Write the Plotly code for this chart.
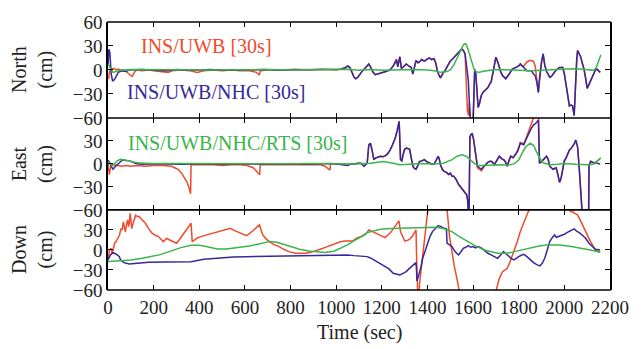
import plotly.graph_objects as go
from plotly.subplots import make_subplots

# ---------------- North error (cm) ----------------
north_uwb_t = [0, 3, 6, 10, 14, 20, 28, 35, 45, 55, 65, 80, 95, 106, 115, 125, 150, 180, 200, 230,
               263, 280, 320, 360, 391, 420, 460, 500, 540, 580, 620, 650, 663, 668, 700, 760, 820,
               880, 940, 1000, 1040, 1050, 1060, 1070, 1078, 1085, 1095, 1110, 1125, 1136, 1143,
               1152, 1162, 1171, 1185, 1200, 1218, 1236, 1250, 1264, 1270, 1279, 1286, 1295, 1307,
               1318, 1329, 1336, 1343, 1350, 1358, 1365, 1375, 1386, 1396, 1408, 1418, 1429, 1437,
               1443, 1450, 1457, 1468, 1479, 1490, 1500, 1511, 1522, 1536, 1550, 1558, 1565, 1570,
               1575, 1580, 1584, 1586, 1593, 1600, 1604, 1607, 1612, 1616, 1622, 1628, 1636, 1643,
               1655, 1665, 1672, 1679, 1686, 1693, 1700, 1708, 1715, 1722, 1729, 1736, 1743, 1758,
               1772, 1786, 1800, 1807, 1815, 1822, 1836, 1850, 1864, 1872, 1879, 1886, 1890, 1893,
               1900, 1907, 1914, 1922, 1936, 1943, 1950, 1964, 1979, 1993, 2000, 2007, 2015, 2022,
               2030, 2036, 2043, 2047, 2050, 2054, 2058, 2065, 2072, 2079, 2086, 2093, 2100, 2108,
               2115, 2122, 2129, 2136, 2143, 2150, 2157]
north_uwb_v = [-8, -11, -3, 1, 2, 1, 2, 0, 1, 0, -1, -2, -6, -8, -3, 0, -1, 0, -1, -2,
               -3, -1, 0, -1, -3, -1, 0, -1, 0, -1, -1, -3, -6, -1, 0, 0, 1,
               0, 1, 0, 2, 5, 3, -3, -9, -11, -9, -3, 2, 5, 7.5,
               3, -3, -6, -5, -3, -2, 0, 5, 13.5, 5, 17, 2, 4, 7.5,
               5, 3, -5, 4, 12, 9, 10, 13, 11, 13, 15, 13, 14, 8,
               -1, -6, -10, -4, 0, 6, 11, 14, 18, 22, 26.5, 24, 20, -10,
               -50, -57, -40, -55, -70, -65, -20, 1, -5, -25, -47, -42, -32, -28,
               -24, -22, -18, -15, -5, 8, 16, 10, 3, -3, -7, -9, -11, -5,
               1, 3, 5, 7.5, 5, 5, 10, 12, 11, 5, -10, -28, -15, -4,
               10, 20, 6, -2, -9, -8, -5, 0, 3, 3, -5, -17.6, -35, -45,
               -44, -45, -57, -30, -3, 12, 25, 20, 16, 8, 1, -10, -23, -18,
               -13, -8, -3, 0, 1, -1, -3]

north_nhc_t = [0, 4, 8, 14, 20, 28, 36, 45, 60, 80, 93, 150, 200, 260, 300, 350, 400, 450, 500,
               560, 620, 680, 740, 800, 860, 920, 980, 1020, 1040, 1050, 1060, 1070, 1078, 1085,
               1095, 1110, 1125, 1136, 1143, 1152, 1162, 1171, 1185, 1200, 1218, 1236, 1250, 1264,
               1270, 1279, 1286, 1295, 1307, 1318, 1329, 1336, 1343, 1350, 1358, 1365, 1375, 1386,
               1396, 1408, 1418, 1429, 1437, 1443, 1450, 1457, 1468, 1479, 1490, 1500, 1511, 1522,
               1536, 1550, 1558, 1565, 1572, 1579, 1586, 1593, 1600, 1604, 1607, 1612, 1616, 1622,
               1628, 1636, 1643, 1655, 1665, 1672, 1679, 1686, 1693, 1700, 1708, 1715, 1722, 1729,
               1736, 1743, 1758, 1772, 1786, 1800, 1807, 1815, 1822, 1836, 1850, 1857, 1864, 1872,
               1879, 1886, 1890, 1893, 1900, 1907, 1914, 1922, 1936, 1943, 1950, 1964, 1979, 1993,
               2000, 2007, 2015, 2022, 2030, 2036, 2043, 2047, 2050, 2054, 2058, 2065, 2072, 2079,
               2086, 2093, 2100, 2108, 2115, 2122, 2129, 2136, 2143, 2150, 2157]
north_nhc_v = [5, 26, 22, -5, -14, -12, -8, -3, -1, -2, 0, 0.5, -0.5, -1, 0.5, -0.5, 0, 0.5, -0.5,
               0.3, 0, 0.5, 0, 0.3, 0, 0.5, 0.3, 1, 3, 5, 3, -3, -9, -11,
               -9, -3, 2, 5, 7.5, 3, -3, -6, -5, -3, -2, 0, 5, 12.5,
               4, 16, 2, 4, 7.5, 5, 3, -5, 4, 12, 9, 10, 13, 11,
               13, 15, 13, 14, 8, -1, -6, -10, -4, 0, 6, 11, 14, 18,
               22, 26.5, 24, 20, 5, -13, -55, -70, -65, -20, 1, -5, -25, -47,
               -42, -32, -28, -24, -22, -18, -15, -5, 8, 16, 10, 3, -3, -7,
               -9, -11, -5, 1, 3, 5, 7.5, 5, 2, -1, -1, -1, -5, -7,
               -15, -28, -15, -4, 10, 20, 6, -2, -9, -8, -5, 0, 3, 3,
               -5, -17.6, -35, -45, -44, -45, -57, -30, -3, 12, 24, 20, 16, 8,
               1, -10, -23, -18, -13, -8, -3, 0, 1, -1, -3]

north_rts_t = [0, 8, 15, 22, 35, 60, 100, 200, 300, 400, 500, 600, 700, 800, 900, 1000, 1050,
               1100, 1150, 1200, 1250, 1300, 1350, 1400, 1430, 1460, 1485, 1500, 1515, 1530, 1545,
               1558, 1565, 1572, 1582, 1593, 1603, 1612, 1625, 1645, 1680, 1720, 1760, 1800, 1850,
               1900, 1950, 2000, 2040, 2080, 2110, 2129, 2140, 2150, 2160]
north_rts_v = [7.5, 4, 0, -3, -2, 0, 0.5, 0, 0.3, 0, 0.3, 0, 0.5, 0, 0.5, 0.3, 1,
               -0.5, 0.5, -0.5, 0, 0.5, 0.5, 0, -1, -3, -2, 0, 6, 15, 25,
               31.5, 33, 31, 22, 10, 2, -2, -3, -1.5, 0, 0.5, 0, -1, -1,
               -0.5, 0.5, 1.5, 1.5, 1, 0, -0.5, 3, 12, 19]

# ---------------- East error (cm) ----------------
east_uwb_t = [0, 3, 6, 10, 15, 25, 40, 60, 80, 100, 130, 160, 200, 240, 278, 292, 307, 322, 336,
              345, 353, 358, 362, 364, 380, 420, 460, 500, 540, 580, 610, 636, 650, 665, 667, 700,
              760, 820, 880, 930, 951, 962, 973, 975, 1000, 1040, 1049, 1065, 1079, 1095, 1108,
              1122, 1136, 1143, 1150, 1158, 1165, 1172, 1182, 1193, 1205, 1215, 1225, 1236, 1247,
              1258, 1267, 1276, 1282, 1288, 1293, 1300, 1308, 1315, 1322, 1329, 1336, 1343, 1350,
              1358, 1365, 1375, 1386, 1397, 1408, 1418, 1429, 1438, 1447, 1452, 1457, 1465, 1472,
              1483, 1493, 1500, 1508, 1515, 1525, 1536, 1550, 1565, 1572, 1576, 1579, 1582, 1584,
              1586, 1590, 1596, 1602, 1607, 1613, 1619, 1628, 1636, 1647, 1658, 1668, 1679, 1686,
              1693, 1704, 1715, 1725, 1736, 1743, 1750, 1758, 1765, 1775, 1786, 1796, 1807, 1815,
              1822, 1832, 1843, 1853, 1864, 1872, 1880, 1886, 1889, 1891, 1900, 1907, 1915, 1922,
              1929, 1936, 1943, 1950, 1957, 1964, 1970, 1979, 1986, 1993, 2000, 2007, 2015, 2022,
              2029, 2036, 2043, 2050, 2054, 2058, 2065, 2072, 2076, 2079, 2090, 2100, 2106, 2108,
              2115, 2125, 2136, 2146, 2157]
east_uwb_v = [0, -10, -14, -6, -2, -1, -2, -3, -2, -3, -2, -3, -2, -2, -3, -5, -7, -12, -18,
              -23, -29, -34, -39, -1, -1, -1, -1, -2, -1, -1, -2, -5, -9, -14, -1, -1,
              -1, -1, -1, -1, -3, -5, -8, 0, 0, -1, -2, 0, 0, 1, 1,
              -3, 1, 25, 27, 17, 5.5, 7.5, 9, 10, 9.5, 10.5, 13, 18, 25,
              33, 43, 56, 5.5, 4, 12, 19, 20.6, 20, 19, 8, -3, -6, -7,
              -2, 3, 4, 5.5, 3, 1, 0, -0.5, 4, 10, 6, -1, -7, -9.4,
              -11, -13.7, -12, -16, -16, -20, -26.6, -32, -37, -41, -48, -62, -80, -20,
              33, 38, 39, 32, 22.7, 6, -5, -7, -9, -4, 0.5, 3, 3.5, 2,
              -1, 5, 10, 7, 5, 2, -3, 5, 10, 8, 12, 18, 28, 27,
              26, 33, 42, 50, 58, 68, 75, 78, 30, 1, 3, 5.5, 7, 10,
              6, -3, -5, -7, -6, -5, -12, -24, -18, -5, 4, 7.5, 14, 18,
              20, 22.7, 26, 31, 27, 22, -5, -33, -55, -68, -75, -80, -80, -3,
              3.5, 2, 2, 4, 7]

east_nhc_t = [0, 5, 12, 22, 30, 43, 55, 64, 80, 93, 110, 121, 150, 200, 260, 320, 380, 440, 500,
              560, 620, 680, 740, 800, 860, 920, 980, 1030, 1049, 1065, 1079, 1095, 1108, 1122,
              1136, 1143, 1150, 1158, 1165, 1172, 1182, 1193, 1205, 1215, 1225, 1236, 1247, 1258,
              1267, 1276, 1282, 1288, 1293, 1300, 1308, 1315, 1322, 1329, 1336, 1343, 1350, 1358,
              1365, 1375, 1386, 1397, 1408, 1418, 1429, 1438, 1447, 1452, 1457, 1465, 1472, 1483,
              1493, 1500, 1508, 1515, 1525, 1536, 1550, 1565, 1572, 1576, 1579, 1582, 1584, 1586,
              1590, 1596, 1602, 1607, 1613, 1619, 1628, 1636, 1647, 1658, 1668, 1679, 1686, 1693,
              1704, 1715, 1725, 1736, 1743, 1750, 1758, 1765, 1775, 1786, 1796, 1807, 1815, 1822,
              1832, 1843, 1853, 1864, 1875, 1886, 1889, 1891, 1900, 1907, 1915, 1922, 1929, 1936,
              1943, 1950, 1957, 1964, 1970, 1979, 1986, 1993, 2000, 2007, 2015, 2022, 2029, 2036,
              2043, 2050, 2054, 2058, 2065, 2072, 2076, 2079, 2090, 2100, 2106, 2108, 2115, 2125,
              2136, 2146, 2157]
east_nhc_v = [5, 3, -2, -7, -4, 0, 4, 5.5, 4.5, 4, 2, 0.5, -0.5, 0.3, 0, -0.5, 0, 0.3, -0.5,
              0, 0.3, -0.5, 0, 0.3, -0.5, 0, 0.5, -1, -2, 0, 0, 1, 1, -3,
              1, 25, 27, 17, 5.5, 7.5, 9, 10, 9.5, 10.5, 13, 18, 25, 33,
              43, 55, 5.5, 4, 12, 19, 20.6, 20, 19, 8, -3, -6, -7, -2,
              3, 4, 5.5, 3, 1, 0, -0.5, 4, 10, 6, -1, -7, -9.4, -11,
              -13.7, -12, -16, -16, -20, -26.6, -32, -37, -40, -46, -60, -80, -20, 35.6,
              38, 40, 32, 22.7, 8, -3, -5, -7, -3, 0.5, 3, 3.5, 2, -1,
              5, 10, 7, 5, 2, -3, 5, 10, 8, 12, 17, 27, 26, 25,
              32, 40, 45, 50.6, 53, 57, 30, 1, 3, 5.5, 7, 10, 6, -3,
              -5, -7, -6, -5, -12, -24, -18, -5, 4, 7.5, 14, 18, 20, 22.7,
              26, 31, 27, 22, -5, -33, -55, -68, -75, -80, -80, -3, 3.5, 2,
              1, 0, 0]

east_rts_t = [0, 8, 18, 28, 40, 55, 70, 90, 110, 130, 160, 200, 300, 400, 500, 600, 700, 800,
              900, 1000, 1080, 1150, 1207, 1250, 1279, 1320, 1380, 1430, 1470, 1508, 1530, 1550,
              1570, 1593, 1608, 1622, 1650, 1700, 1750, 1780, 1800, 1815, 1830, 1850, 1865, 1879,
              1895, 1907, 1925, 1936, 1970, 2000, 2050, 2100, 2130, 2145, 2160]
east_rts_v = [3, 1, -2, 0, 4, 6, 5.5, 4, 2.5, 1.5, 1, 0.5, 0.5, 0.3, 0.5, 0.3, 0.5, 0.3,
              0.5, 0.5, 0, 1, 3, 1, -1, -0.5, 0.5, 0, 1, 5.6, 10, 12,
              10, 4, 0, -2, -2, -1, -1.5, 0, 5, 14, 22, 27, 24, 15,
              6, 1.5, -0.5, -1, -0.5, 0.5, -0.5, -1, 0, 4, 8]

# ---------------- Down error (cm) ----------------
down_uwb_t = [0, 4, 7, 14, 18, 21, 29, 36, 43, 50, 57, 62, 67, 72, 76, 81, 86, 90, 93, 97, 100,
              104, 110, 121, 128, 136, 150, 164, 178, 193, 207, 221, 232, 243, 250, 257, 264, 271,
              285, 300, 314, 328, 343, 357, 364, 369, 378, 392, 407, 428, 450, 475, 500, 520, 536,
              555, 571, 590, 607, 622, 636, 650, 664, 671, 678, 692, 707, 728, 750, 770, 793, 821,
              840, 864, 885, 907, 930, 950, 970, 993, 1015, 1036, 1055, 1071, 1079, 1093, 1108,
              1122, 1133, 1143, 1155, 1165, 1176, 1186, 1200, 1215, 1225, 1236, 1247, 1258, 1268,
              1275, 1282, 1290, 1300, 1311, 1322, 1333, 1343, 1350, 1353, 1356, 1360, 1365, 1372,
              1379, 1386, 1393, 1400, 1408, 1430, 1460, 1480, 1483, 1486, 1497, 1507, 1518, 1529,
              1539, 1560, 1620, 1680, 1700, 1715, 1729, 1740, 1750, 1765, 1779, 1793, 1807, 1818,
              1829, 1840, 1850, 1880, 1950, 2000, 2017, 2022, 2030, 2036, 2043, 2050, 2057, 2065,
              2072, 2083, 2093, 2104, 2115, 2125, 2136, 2147, 2157]
down_uwb_v = [-15, -5, 0, 2.5, -5, -2, 10, 13, 17, 22, 32, 30, 42, 35, 27, 38, 45, 35, 40, 55, 48,
              32, 40, 52, 50, 50, 45, 40, 32, 25, 22, 20, 16, 12.5, 15, 17.5, 16, 15,
              12, 10, 16, 22.5, 29, 35, 40, 12.5, 15, 18, 20, 22, 25, 27, 30, 31, 32.5,
              29, 27, 24, 21.5, 25, 29, 33, 37.5, 30, 22.5, 17, 12.5, 8, 5, 1, -2.5, -5,
              -5.5, -5, -4, -1, 1, 3.5, 6, 10, 12, 13.5, 14, 13.5, 15, 18.5, 20,
              22.5, 25, 30, 28, 26, 24, 23, 20, 18.5, 22, 25, 30, 35, 40,
              43.5, 27.5, 20, 13.5, 14, 16, 20, 26.5, 30, -20, -70, -95, -52, -30,
              -7.5, 15, 37.5, 55, 70, 120, 130, 90, 60, 60, 20, -5, -25, -42.5,
              -60, -100, -150, -90, -62, -42.5, -32.5, -30, -27.5, -15, -2.5, 12, 27.5, 37,
              47.5, 56, 62, 80, 110, 80, 62, 60, 57, 58, 55, 54, 52.5, 48,
              42.5, 35, 27.5, 20, 12.5, 6, 0, -2, -3]

down_nhc_t = [0, 10, 21, 35, 50, 55, 70, 93, 130, 179, 250, 320, 364, 420, 493, 550, 607, 680,
              750, 850, 964, 1050, 1079, 1100, 1136, 1150, 1165, 1185, 1207, 1230, 1250, 1265,
              1279, 1293, 1307, 1320, 1336, 1350, 1352, 1354, 1360, 1365, 1372, 1379, 1390, 1400,
              1411, 1422, 1435, 1447, 1460, 1472, 1483, 1486, 1496, 1507, 1520, 1536, 1546, 1557,
              1568, 1579, 1590, 1600, 1611, 1622, 1636, 1650, 1665, 1679, 1693, 1707, 1720, 1733,
              1745, 1757, 1768, 1779, 1790, 1800, 1811, 1822, 1836, 1850, 1865, 1879, 1893, 1903,
              1914, 1925, 1936, 1946, 1957, 1965, 1972, 1986, 2000, 2011, 2022, 2033, 2043, 2054,
              2065, 2079, 2093, 2108, 2122, 2136, 2157]
down_nhc_v = [-15, -8, -4, -6, -10, -15, -19, -21, -20, -18.5, -18, -17.5, -17.5, -14, -11.5,
              -10.5, -10, -9.5, -8.5, -8, -7.5, -7.5, -8.5, -9, -10, -12, -15, -18, -22.5, -28,
              -35, -36, -37.5, -35, -32.5, -28, -22.5, -19, -30, -46.5, -40, -35, -25, -12.5, -2,
              10, 20, 27.5, 33, 36.5, 35, 32.5, 32, 10, 8, 5, -2, -7.5, -3, 2.5,
              4, 6.5, 4, 5, 3, 5, 3, -1, -5, -7.5, -10, -12.5, -8, -2.5,
              -6, -10, -13, -15, -12, -10, -8, -6.5, -10, -15, -19, -22, -24, -20,
              -12.5, 0, 12.5, 18, 22.5, 19, 20, 21, 23.5, 26, 27.5, 30, 31.5, 28,
              26, 22, 17.5, 10, 5, 1, 0]

down_rts_t = [0, 50, 100, 150, 193, 230, 280, 320, 364, 400, 440, 479, 520, 570, 620, 670, 707,
              740, 790, 840, 879, 920, 950, 990, 1050, 1079, 1100, 1122, 1136, 1165, 1193, 1240,
              1293, 1350, 1400, 1436, 1470, 1507, 1540, 1579, 1610, 1650, 1680, 1707, 1740, 1765,
              1800, 1850, 1890, 1922, 1950, 1979, 2030, 2079, 2120, 2157]
down_rts_v = [-17.5, -16.5, -15, -12.5, -10, -7, -1, 3.5, 7, 7, 4.5, 1.5, 1.5, 3.5, 6, 9.5, 12.5,
              11.5, 6, 1, -1.5, -3.5, -4, -2, 7.5, 14, 18, 22, 26, 29, 31, 32,
              32.5, 33, 34, 34, 32, 27.5, 20, 12.5, 6, 0, -3, -5, -5, -4,
              -1, 3.5, 6, 7.5, 8, 7.5, 5, 2.5, -0.5, -3.5]

time_ticks = [0, 200, 400, 600, 800, 1000, 1200, 1400, 1600, 1800, 2000, 2200]
north_ticks = [60, 30, 0, -30, -60]
east_ticks = [30, 0, -30, -60]
down_ticks = [30, 0, -30, -60]
panel_names = ["North", "East", "Down"]

RED = "#ee4a2c"
BLUE = "#36289a"
GREEN = "#3ab54a"
SERIF = "Liberation Serif"
FRAME_W = 1.6

fig = make_subplots(rows=3, cols=1, shared_xaxes=True, vertical_spacing=0,
                    row_heights=[97, 93, 81])

panels = [
    (north_uwb_t, north_uwb_v, north_nhc_t, north_nhc_v, north_rts_t, north_rts_v),
    (east_uwb_t, east_uwb_v, east_nhc_t, east_nhc_v, east_rts_t, east_rts_v),
    (down_uwb_t, down_uwb_v, down_nhc_t, down_nhc_v, down_rts_t, down_rts_v),
]
for row, (ut, uv, nt, nv, rt, rv) in enumerate(panels, start=1):
    fig.add_trace(go.Scatter(x=ut, y=uv, mode="lines", line=dict(color=RED, width=1.5),
                             name="INS/UWB [30s]", showlegend=False), row=row, col=1)
    fig.add_trace(go.Scatter(x=nt, y=nv, mode="lines", line=dict(color=BLUE, width=1.5),
                             name="INS/UWB/NHC [30s]", showlegend=False), row=row, col=1)
    fig.add_trace(go.Scatter(x=rt, y=rv, mode="lines", line=dict(color=GREEN, width=1.5),
                             name="INS/UWB/NHC/RTS [30s]", showlegend=False), row=row, col=1)

tick_style = dict(ticks="inside", ticklen=5, tickwidth=1.2, tickcolor="black",
                  showgrid=False, zeroline=False,
                  tickfont=dict(family=SERIF, size=19, color="#222"))

# horizontal frame edges are drawn as shapes so adjoining panels share one line
for row in (1, 2, 3):
    fig.update_xaxes(range=[0, 2200], tickvals=time_ticks, showline=False, mirror="ticks",
                     row=row, col=1, **tick_style)
fig.update_xaxes(ticklabelstandoff=4, row=3, col=1)

for row, tv in zip((1, 2, 3), (north_ticks, east_ticks, down_ticks)):
    fig.update_yaxes(range=[-60, 60], tickvals=tv, showline=True, linecolor="black",
                     linewidth=FRAME_W, mirror="ticks", row=row, col=1, **tick_style)

edges = sorted({d for ax in ("yaxis", "yaxis2", "yaxis3") for d in fig.layout[ax].domain})
shapes = [dict(type="line", xref="paper", yref="paper", x0=-0.0016, x1=1.0016, y0=e, y1=e,
               line=dict(color="black", width=FRAME_W), layer="above") for e in edges]
fig.update_layout(shapes=shapes)

annotations = [
    dict(text="INS/UWB [30s]", x=136, y=30, xref="x", yref="y", xanchor="left",
         yanchor="middle", font=dict(family=SERIF, size=20, color=RED)),
    dict(text="INS/UWB/NHC [30s]", x=76, y=-28, xref="x", yref="y", xanchor="left",
         yanchor="middle", font=dict(family=SERIF, size=20, color=BLUE)),
    dict(text="INS/UWB/NHC/RTS [30s]", x=79, y=27, xref="x2", yref="y2", xanchor="left",
         yanchor="middle", font=dict(family=SERIF, size=20, color=GREEN)),
    dict(text="Time (sec)", x=0.5, y=0, xref="paper", yref="paper", xanchor="center",
         yanchor="middle", yshift=-42, font=dict(family=SERIF, size=20, color="#222")),
]
for name, yref in zip(panel_names, ("y domain", "y2 domain", "y3 domain")):
    annotations.append(dict(text=f"{name}<br>(cm)", x=0, y=0.5, xref="paper", yref=yref,
                            xanchor="center", yanchor="middle", xshift=-75, textangle=-90,
                            font=dict(family=SERIF, size=20, color="#222")))
for a in annotations:
    a["showarrow"] = False
fig.update_layout(annotations=annotations)

fig.update_layout(width=641, height=349, margin=dict(l=108, r=20, t=19, b=59),
                  plot_bgcolor="white", paper_bgcolor="white", showlegend=False)

fig.write_html("out.html")
